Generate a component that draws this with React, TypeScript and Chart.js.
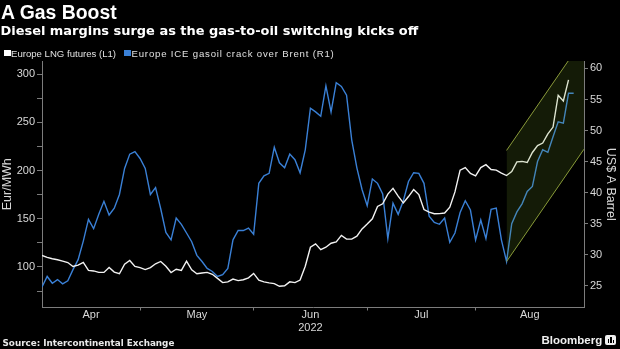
import React, { useEffect, useRef } from "react";
import { Chart, registerables } from "chart.js";

Chart.register(...registerables);

// ---- Data (trading-day index on x) ----
const monthLabels: (string | string[])[] = ["Apr", "May", ["Jun", "2022"], "Jul", "Aug"];
const monthLabelPositions = [9.5, 30, 52, 73.5, 94.5];
const monthBoundaries = [19, 41, 63, 84];

const lngFutures = [
  112, 110, 108.5, 107.5, 106, 104.6, 100.5, 102, 104.8, 96.5,
  95.9, 94.4, 94.4, 99.5, 94.7, 93, 102.8, 106.7, 100.6, 99.3,
  97.3, 99.4, 103.3, 105.7, 100.8, 94.3, 97.7, 96.5, 106.1, 97,
  93, 93.7, 94.4, 92.4, 88.2, 83.8, 84.6, 87.5, 85.9, 86.8,
  88.7, 93.3, 86.4, 84.5, 83.5, 82.8, 80, 80.5, 84.6, 83.8,
  86.5, 100.7, 120.5, 124, 118, 120.5, 124.6, 126, 132.7, 129,
  128.9, 132, 139.5, 144.5, 150, 162.7, 165.5, 175.5, 181.5, 173.5,
  166.5, 173, 180.3, 175, 159.5, 156.8, 155.2, 155.3, 155.9, 162,
  177.8, 200.3, 203.1, 197, 194.5, 203, 206, 201, 200.4, 197.3,
  194.8, 199, 209, 209.4, 208.3, 218.7, 225.9, 228.5, 238, 245,
  278, 272, 294,
];

const gasoilCrack = [
  24.8, 26.5, 25.4, 26, 25.3, 25.8, 27.6, 29.2, 32.2, 35.7,
  34.2, 36.5, 38.6, 36.4, 37.5, 39.7, 43.9, 46.2, 46.6, 45.5,
  43.9, 39.7, 40.8, 37.4, 33.6, 32.4, 35.9, 34.9, 33.5, 32.1,
  29.9, 28.9, 27.8, 27.3, 26.5, 26.8, 27.8, 32.4, 33.9, 33.9,
  34.3, 33.3, 41.5, 42.7, 43.1, 47.3, 44.8, 44, 46.2, 45.3,
  43.2, 46.9, 53.6, 53, 52.3, 57.2, 53, 57.7, 57.1, 55.7,
  48.5, 44, 40.5, 37.9, 42.2, 41.5, 39.8, 32.6, 38.3, 36.5,
  38.7, 41.8, 43.2, 43.1, 41.5, 36.2, 35.2, 34.9, 35.9, 32,
  33.5, 36.8, 38.7, 37.2, 32.4, 35.6, 32.6, 37.3, 37.5, 32.4,
  28.9, 35, 36.9, 38.2, 40.2, 41, 45, 46.9, 46.5, 49,
  51.4, 51.2, 56, 56,
];

// Trend channel (right axis)
const channelX = [90, 105];
const channelUpper = [46.8, 64.9];
const channelLower = [28.9, 47.0];

const leftTickValues = [75, 100, 125, 150, 175, 200, 225, 250, 275, 300];
const rightTickValues = [25, 30, 35, 40, 45, 50, 55, 60];

const AXIS_GREY = "#7c7c7c";
const TICK_TEXT = "#d8d8d8";
const BLUE = "#3a80d6";
const WHITE_LINE = "#f2f2f2";
const CHANNEL_EDGE = "#8a9a3a";
const CHANNEL_FILL = "rgba(120,160,40,0.17)";
const FONT = "'Liberation Sans', Arial, sans-serif";

export default function App() {
  const canvasRef = useRef<HTMLCanvasElement | null>(null);

  useEffect(() => {
    document.body.style.margin = "0";
    document.body.style.background = "#000";
    Chart.defaults.font.family = FONT;
    const canvas = canvasRef.current;
    if (!canvas) return;

    const chart = new Chart(canvas, {
      type: "line",
      data: {
        datasets: [
          {
            label: "channel upper",
            data: channelX.map((x, i) => ({ x, y: channelUpper[i] })),
            yAxisID: "y1",
            borderColor: CHANNEL_EDGE,
            borderWidth: 1,
            pointRadius: 0,
            fill: "+1",
            backgroundColor: CHANNEL_FILL,
          },
          {
            label: "channel lower",
            data: channelX.map((x, i) => ({ x, y: channelLower[i] })),
            yAxisID: "y1",
            borderColor: CHANNEL_EDGE,
            borderWidth: 1,
            pointRadius: 0,
            fill: false,
          },
          {
            label: "Europe LNG futures (L1)",
            data: lngFutures.map((y, x) => ({ x, y })),
            yAxisID: "y",
            borderColor: WHITE_LINE,
            borderWidth: 1.4,
            pointRadius: 0,
            fill: false,
          },
          {
            label: "Europe ICE gasoil crack over Brent (R1)",
            data: gasoilCrack.map((y, x) => ({ x, y })),
            yAxisID: "y1",
            borderColor: BLUE,
            borderWidth: 1.4,
            pointRadius: 0,
            fill: false,
          },
        ],
      },
      options: {
        responsive: false,
        animation: false,
        devicePixelRatio: 1,
        layout: { padding: { top: 61, left: 0, right: 0, bottom: 0 } },
        plugins: {
          legend: { display: false },
          tooltip: { enabled: false },
          title: { display: false },
        },
        scales: {
          x: {
            type: "linear",
            min: 0,
            max: 105,
            afterBuildTicks: (scale: any) => {
              const vals = [...monthBoundaries, ...monthLabelPositions].sort((a, b) => a - b);
              scale.ticks = vals.map((v) => ({ value: v }));
            },
            afterFit: (scale: any) => {
              scale.height = 41.5;
            },
            grid: {
              drawOnChartArea: false,
              drawTicks: true,
              tickLength: 3,
              tickColor: (ctx: any) =>
                ctx.tick && monthBoundaries.includes(ctx.tick.value) ? AXIS_GREY : "rgba(0,0,0,0)",
            },
            border: { display: true, color: AXIS_GREY, width: 1 },
            ticks: {
              autoSkip: false,
              maxRotation: 0,
              minRotation: 0,
              padding: -1.5,
              color: TICK_TEXT,
              font: { size: 11, lineHeight: 1.14 },
              callback: (value: any) => {
                const i = monthLabelPositions.indexOf(Number(value));
                return i >= 0 ? (monthLabels[i] as any) : "";
              },
            },
          },
          y: {
            type: "linear",
            position: "left",
            min: 58,
            max: 313.5,
            afterBuildTicks: (scale: any) => {
              scale.ticks = leftTickValues.map((v) => ({ value: v }));
            },
            afterFit: (scale: any) => {
              scale.width = 42;
            },
            grid: { drawOnChartArea: false, drawTicks: true, tickLength: 5, tickColor: AXIS_GREY },
            border: { display: true, color: AXIS_GREY, width: 1 },
            ticks: {
              padding: 2,
              color: TICK_TEXT,
              font: { size: 11 },
              callback: (value: any) => (Number(value) % 50 === 0 ? String(value) : ""),
            },
            title: {
              display: true,
              text: "Eur/MWh",
              color: TICK_TEXT,
              font: { size: 12.5 },
              padding: { top: 0.5, bottom: 0 },
            },
          },
          y1: {
            type: "linear",
            position: "right",
            min: 21.5,
            max: 61.2,
            afterBuildTicks: (scale: any) => {
              scale.ticks = rightTickValues.map((v) => ({ value: v }));
            },
            afterFit: (scale: any) => {
              scale.width = 36;
            },
            grid: { drawOnChartArea: false, drawTicks: true, tickLength: 4, tickColor: AXIS_GREY },
            border: { display: true, color: AXIS_GREY, width: 1 },
            ticks: {
              padding: 2,
              color: TICK_TEXT,
              font: { size: 11 },
              callback: (value: any) => String(value),
            },
            title: {
              display: true,
              text: "US$ A Barrel",
              color: TICK_TEXT,
              font: { size: 12.5 },
              padding: { top: 2.5, bottom: 0 },
            },
          },
        },
      } as any,
    });

    return () => chart.destroy();
  }, []);

  const abs: React.CSSProperties = { position: "absolute", whiteSpace: "nowrap" };

  return (
    <div
      style={{
        position: "relative",
        width: 620,
        height: 349,
        background: "#000",
        overflow: "hidden",
        fontFamily: FONT,
      }}
    >
      <canvas ref={canvasRef} width={620} height={349} style={{ position: "absolute", left: 0, top: 0 }} />
      <div
        style={{
          ...abs,
          left: 1,
          top: 1.2,
          color: "#fff",
          fontFamily: FONT,
          fontWeight: 700,
          fontSize: 19.4,
          lineHeight: "22px",
        }}
      >
        A Gas Boost
      </div>
      <div
        style={{
          ...abs,
          left: 0.5,
          top: 23.3,
          color: "#fff",
          fontFamily: "'DejaVu Sans', sans-serif",
          fontWeight: 700,
          fontSize: 12.95,
          lineHeight: "15px",
        }}
      >
        Diesel margins surge as the gas-to-oil switching kicks off
      </div>
      <div style={{ position: "absolute", left: 4, top: 49.5, width: 6.5, height: 6.5, background: "#fff" }} />
      <div
        style={{ ...abs, left: 11, top: 47.7, color: "#e0e0e0", fontSize: 9.6, lineHeight: "11px", fontFamily: FONT }}
      >
        Europe LNG futures (L1)
      </div>
      <div style={{ position: "absolute", left: 124, top: 49.5, width: 6.5, height: 6.5, background: BLUE }} />
      <div
        style={{
          ...abs,
          left: 131.5,
          top: 47.7,
          color: "#e0e0e0",
          fontSize: 9.6,
          lineHeight: "11px",
          letterSpacing: "0.82px",
          fontFamily: FONT,
        }}
      >
        Europe ICE gasoil crack over Brent (R1)
      </div>
      <div
        style={{
          ...abs,
          left: 2.5,
          top: 337.5,
          color: "#e8e8e8",
          fontFamily: "'DejaVu Sans', sans-serif",
          fontWeight: 700,
          fontSize: 8.8,
          lineHeight: "11px",
        }}
      >
        Source: Intercontinental Exchange
      </div>
      <div
        style={{
          ...abs,
          left: 541.5,
          top: 334,
          color: "#f0f0f0",
          fontFamily: FONT,
          fontWeight: 700,
          fontSize: 11.5,
          lineHeight: "13px",
        }}
      >
        Bloomberg
      </div>
      <div
        style={{
          position: "absolute",
          left: 605,
          top: 335,
          width: 11,
          height: 10,
          background: "#f0f0f0",
          borderRadius: 2,
        }}
      >
        <div style={{ position: "absolute", left: 2.5, top: 4, width: 1.5, height: 4, background: "#000" }} />
        <div style={{ position: "absolute", left: 5, top: 2, width: 1.5, height: 6, background: "#000" }} />
        <div style={{ position: "absolute", left: 7.5, top: 5, width: 1.5, height: 3, background: "#000" }} />
      </div>
    </div>
  );
}
